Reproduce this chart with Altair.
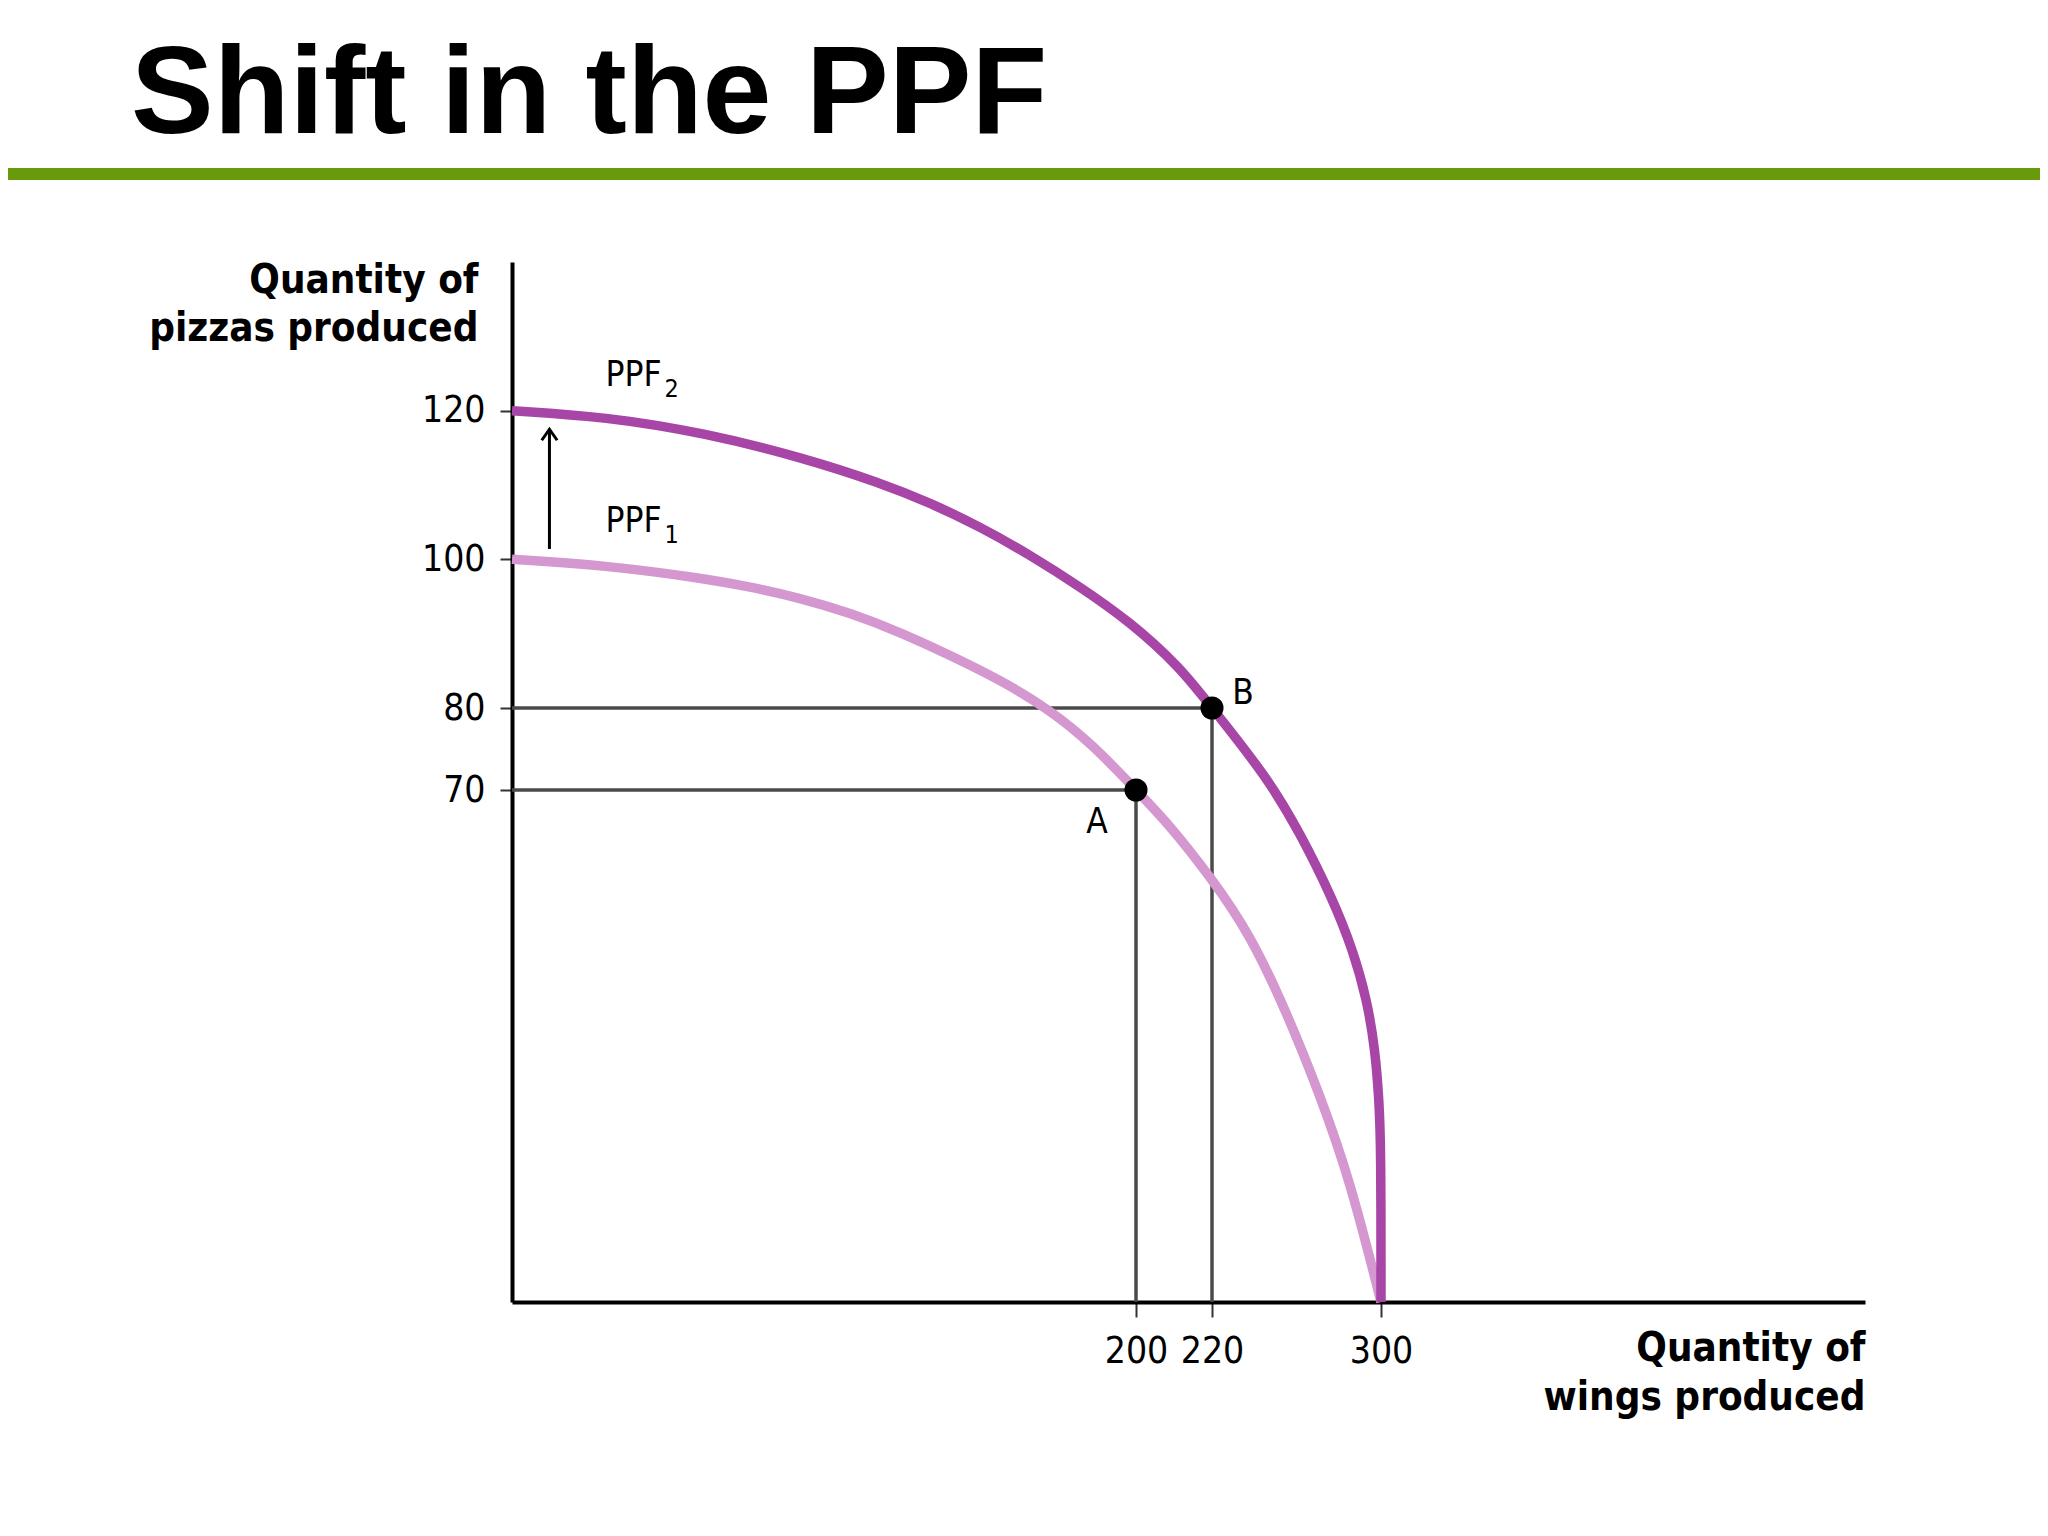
import altair as alt
import pandas as pd

# ---- data ----
ppf1_x = [0, 29.8, 60.3, 76.3, 92.3, 108.3, 124.4, 140.4, 156.4, 172.4, 186.2, 200,
          208.2, 219.5, 238, 255.5, 271.1, 285.3, 300]
ppf1_y = [100, 99.2, 97.5, 96.3, 94.8, 92.8, 90.2, 87.1, 83.8, 79.8, 75.5, 70,
          65.6, 58.2, 50.3, 39.5, 28.3, 16.7, 0]

ppf2_x = [0, 29.8, 61.9, 93.9, 117.9, 134, 150, 166, 182.1, 198.1, 211.6, 220,
          246, 261.7, 277.3, 286.7, 293.4, 297.2, 299.1, 300, 300]
ppf2_y = [120, 119.2, 117, 113.6, 110.3, 107.6, 104.4, 100.6, 96.3, 91.6, 85.5, 80,
          71.6, 64.1, 55, 48.1, 41.3, 34.5, 27.6, 20.8, 0]

point_names = ["A", "B"]
point_x = [200, 220]
point_y = [70, 80]

x_ticks = [200, 220, 300]
y_ticks = [70, 80, 100, 120]

curve_names = ["PPF", "PPF"]
curve_subs = ["1", "2"]
curve_label_x = [30, 30]
curve_label_y = [103.7, 123.3]

arrow_x = [12]
arrow_y0 = [101.4]
arrow_y1 = [117.5]

TITLE = "Shift in the PPF"

W, H = 1353, 1040
REG = "DejaVu Sans Condensed, DejaVu Sans, sans-serif"

x_scale = alt.Scale(domain=[0, 200, 220, 300, 450], range=[0, 624, 700, 869, W], nice=False, zero=False)
y_scale = alt.Scale(domain=[0, 70, 80, 140], range=[H, 528, 446, 0], nice=False, zero=False)

df1 = pd.DataFrame({"x": ppf1_x, "y": ppf1_y, "i": range(len(ppf1_x))})
df2 = pd.DataFrame({"x": ppf2_x, "y": ppf2_y, "i": range(len(ppf2_x))})
pts = pd.DataFrame({"name": point_names, "x": point_x, "y": point_y, "z": [0, 0]})
lab = pd.DataFrame({"t": curve_names, "s": curve_subs, "x": curve_label_x, "y": curve_label_y})
arr = pd.DataFrame({"x": arrow_x, "y0": arrow_y0, "y1": arrow_y1})

x_axis = alt.Axis(
    values=x_ticks, grid=False, labelFont=REG, labelFontSize=37, labelColor="black",
    tickSize=15, tickWidth=2, tickColor="#333333", labelPadding=16,
    domainColor="black", domainWidth=4,
    title=["Quantity of", "wings produced"], titleFont=REG, titleFontSize=40,
    titleFontWeight="bold", titleColor="black", titleAlign="right", titleAnchor="end",
    titleX=W, titleY=58, titleBaseline="alphabetic", titleLineHeight=49,
)
y_axis = alt.Axis(
    values=y_ticks, grid=False, labelFont=REG, labelFontSize=37, labelColor="black",
    tickSize=12, tickWidth=2, tickColor="#333333", labelPadding=15,
    domainColor="black", domainWidth=4,
    title=["Quantity of", "pizzas produced"], titleFont=REG, titleFontSize=40,
    titleFontWeight="bold", titleColor="black", titleAngle=0, titleAlign="right",
    titleX=-34, titleY=30, titleBaseline="alphabetic", titleLineHeight=48,
)

base_x = alt.X("x:Q", scale=x_scale, axis=x_axis)
base_y = alt.Y("y:Q", scale=y_scale, axis=y_axis)

# guide lines
h_guides = alt.Chart(pts).mark_rule(color="#4a4a4a", strokeWidth=3.5).encode(
    x=alt.X("z:Q", scale=x_scale, axis=x_axis), x2="x:Q", y=alt.Y("y:Q", scale=y_scale, axis=y_axis)
)
v_guides = alt.Chart(pts).mark_rule(color="#4a4a4a", strokeWidth=3.5).encode(
    x=alt.X("x:Q", scale=x_scale, axis=x_axis), y=alt.Y("z:Q", scale=y_scale, axis=y_axis), y2="y:Q"
)

line1 = alt.Chart(df1).mark_line(color="#D597CF", strokeWidth=9.5, interpolate="basis").encode(
    x=base_x, y=base_y, order="i:Q"
)
line2 = alt.Chart(df2).mark_line(color="#A846A8", strokeWidth=9.5, interpolate="basis").encode(
    x=base_x, y=base_y, order="i:Q"
)

dots = alt.Chart(pts).mark_circle(color="black", opacity=1, size=530).encode(x=base_x, y=base_y)

lab_a = alt.Chart(pts[pts["name"] == "A"]).mark_text(
    font=REG, fontSize=35, color="black", align="center", baseline="alphabetic", dx=-39, dy=43
).encode(x=base_x, y=base_y, text="name:N")
lab_b = alt.Chart(pts[pts["name"] == "B"]).mark_text(
    font=REG, fontSize=35, color="black", align="center", baseline="alphabetic", dx=31, dy=-4
).encode(x=base_x, y=base_y, text="name:N")

ppf_text = alt.Chart(lab).mark_text(
    font=REG, fontSize=35, color="black", align="left", baseline="alphabetic"
).encode(x=base_x, y=base_y, text="t:N")
ppf_sub = alt.Chart(lab).mark_text(
    font=REG, fontSize=25, color="black", align="left", baseline="alphabetic", dx=59, dy=11
).encode(x=base_x, y=base_y, text="s:N")

arrow_shaft = alt.Chart(arr).mark_rule(color="black", strokeWidth=3).encode(
    x=base_x, y=alt.Y("y0:Q", scale=y_scale, axis=y_axis), y2="y1:Q"
)
arrow_head = alt.Chart(arr).mark_point(
    shape="M-0.7,1L0,0L0.7,1", filled=False, stroke="black", strokeWidth=3, size=484, opacity=1
).encode(x=base_x, y=alt.Y("y1:Q", scale=y_scale, axis=y_axis))

title = alt.Chart(pd.DataFrame({"t": [TITLE]})).mark_text(
    font="Liberation Sans, Arial, sans-serif", fontSize=124, fontWeight="bold", color="black",
    align="left", baseline="alphabetic"
).encode(x=alt.value(-381), y=alt.value(-129), text="t:N")

green = alt.Chart(pd.DataFrame({"a": [0]})).mark_rule(color="#689A0C", strokeWidth=12).encode(
    x=alt.value(-504), x2=alt.value(W + 175), y=alt.value(-88)
)

chart = alt.layer(
    green, title, h_guides, v_guides, line1, line2, dots, lab_a, lab_b, ppf_text, ppf_sub,
    arrow_shaft, arrow_head
).properties(
    width=W, height=H,
    background="white",
    autosize=alt.AutoSizeParams(type="none"),
    padding={"left": 504, "top": 254, "right": 175, "bottom": 200},
).configure_view(stroke="transparent", strokeWidth=0)

chart.save("out.html", embed_options={"renderer": "svg", "actions": False})
